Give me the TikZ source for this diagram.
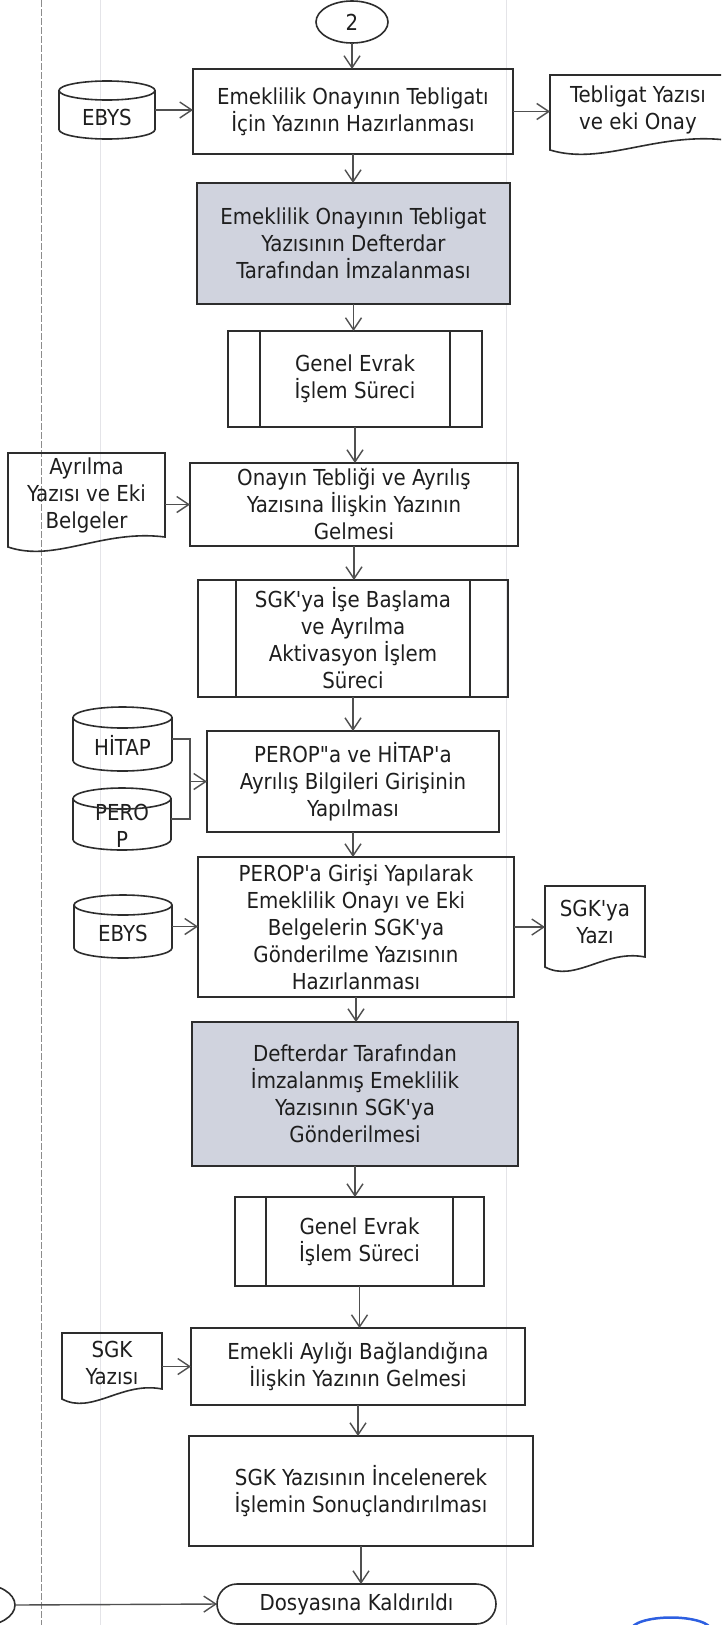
\documentclass[tikz,border=0pt]{standalone}
\usepackage{fontspec}
\setmainfont{DejaVu Sans Condensed}[Ligatures=TeXOff]
\usetikzlibrary{arrows.meta,calc,shapes.misc,shapes.geometric}
\definecolor{ink}{RGB}{30,30,30}
\definecolor{edge}{RGB}{45,45,45}
\definecolor{conn}{RGB}{80,80,80}
\definecolor{shade}{RGB}{208,211,222}
\definecolor{stamp}{RGB}{45,95,225}
\definecolor{lane}{RGB}{140,140,140}
\definecolor{lanefaint}{RGB}{228,228,232}
\tikzset{
  base/.style={inner sep=0pt, outer sep=0pt, font=\fontsize{22}{27}\selectfont, text=ink, align=center},
  procbox/.style={base, rectangle, draw=edge, line width=1.8pt},
  shadebox/.style={procbox, fill=shade},
  shapeonly/.style={base, rectangle, draw=none},
  oval/.style={base, ellipse, draw=edge, line width=1.6pt},
  termbox/.style={base, rounded rectangle, draw=edge, line width=1.6pt},
  outl/.style={draw=edge, line width=1.6pt},
  lnk/.style={draw=conn, line width=1.4pt},
  flow/.style={lnk, -{Straight Barb[length=12pt,width=16pt,line width=1.4pt]}}
}
\newcommand\cylout[3]{% node, half width, ellipse radius
  \draw[outl] ([yshift=-#3pt]#1.north west) -- ([yshift=#3pt]#1.south west)
    arc[start angle=180,end angle=360,x radius=#2pt,y radius=#3pt]
    -- ([yshift=-#3pt]#1.north east)
    arc[start angle=0,end angle=180,x radius=#2pt,y radius=#3pt] -- cycle;
  \draw[outl] ([yshift=-#3pt]#1.north west)
    arc[start angle=180,end angle=360,x radius=#2pt,y radius=#3pt];}
\newcommand\docout[1]{%
  \draw[outl] (#1.north west) -- (#1.north east) -- ([yshift=14pt]#1.south east)
    .. controls ($(#1.south west)!0.6!(#1.south east)+(0,22pt)$) and ($(#1.south west)!0.3!(#1.south east)+(0,-12pt)$) .. ([yshift=4pt]#1.south west) -- cycle;}
\newcommand\gepout[2]{%
  \draw[outl] ([xshift=#2pt]#1.north west) -- ([xshift=#2pt]#1.south west);
  \draw[outl] ([xshift=-#2pt]#1.north east) -- ([xshift=-#2pt]#1.south east);}
\begin{document}
\begin{tikzpicture}[x=1pt,y=1pt]
\useasboundingbox (0,0) rectangle (721,-1625);
\clip (0,0) rectangle (721,-1625);
\fill[white] (0,0) rectangle (721,-1625);
% lane lines
\draw[lanefaint, line width=1pt] (100,0) -- (100,-1625);
\draw[lanefaint, line width=1pt] (506,0) -- (506,-1625);
\draw[lane, line width=1pt, dash pattern=on 7pt off 2pt] (41,0) -- (41,-1625);

% nodes
\node[oval, minimum width=72pt, minimum height=42pt] (c2) at (352,-22) {2};
\node[procbox, minimum width=320pt, minimum height=85pt] (b1) at (353,-111.5) {Emeklilik Onayının Tebligatı\\İçin Yazının Hazırlanması};
\node[shapeonly, minimum width=96pt, minimum height=58pt] (ebys1) at (107,-110) {};
\node[base] (ebys1t) at ($(ebys1)+(0,-7pt)$) {EBYS};
\node[shapeonly, minimum width=176pt, minimum height=79pt] (d1) at (638,-114.5) {};
\node[base] (d1t) at ($(d1)+(0,4.5pt)$) {Tebligat Yazısı\\ve eki Onay};
\node[shadebox, minimum width=313pt, minimum height=121pt] (b2) at (353.5,-243.5) {Emeklilik Onayının Tebligat\\Yazısının Defterdar\\Tarafından İmzalanması};
\node[procbox, minimum width=254pt, minimum height=96pt] (g1) at (355,-379) {Genel Evrak\\İşlem Süreci};
\node[procbox, minimum width=328pt, minimum height=83pt] (b3) at (354,-504.5) {Onayın Tebliği ve Ayrılış\\Yazısına İlişkin Yazının\\Gelmesi};
\node[shapeonly, minimum width=157pt, minimum height=98pt] (d2) at (86.5,-502) {};
\node[base] (d2t) at ($(d2)+(0,7pt)$) {Ayrılma\\Yazısı ve Eki\\Belgeler};
\node[procbox, minimum width=310pt, minimum height=117pt] (g2) at (353,-638.5) {SGK'ya İşe Başlama\\ve Ayrılma\\Aktivasyon İşlem\\Süreci};
\node[shapeonly, minimum width=99pt, minimum height=64pt] (hitap) at (122.5,-739) {};
\node[base] (hitapt) at ($(hitap)+(0,-6pt)$) {HİTAP};
\node[shapeonly, minimum width=98pt, minimum height=62pt] (perop) at (122,-819) {};
\node[base] (propt) at ($(perop)+(0,-7pt)$) {PERO\\P};
\node[procbox, minimum width=292pt, minimum height=101pt] (b4) at (353,-781.5) {PEROP"a ve HİTAP'a\\Ayrılış Bilgileri Girişinin\\Yapılması};
\node[procbox, minimum width=316pt, minimum height=140pt] (b5) at (356,-927) {PEROP'a Girişi Yapılarak\\Emeklilik Onayı ve Eki\\Belgelerin SGK'ya\\Gönderilme Yazısının\\Hazırlanması};
\node[shapeonly, minimum width=98pt, minimum height=63pt] (ebys2) at (123,-926.5) {};
\node[base] (ebys2t) at ($(ebys2)+(0,-6.5pt)$) {EBYS};
\node[shapeonly, minimum width=100pt, minimum height=85pt] (d3) at (595,-928.5) {};
\node[base] (d3t) at ($(d3)+(0,6.5pt)$) {SGK'ya\\Yazı};
\node[shadebox, minimum width=326pt, minimum height=144pt] (b6) at (355,-1094) {Defterdar Tarafından\\İmzalanmış Emeklilik\\Yazısının SGK'ya\\Gönderilmesi};
\node[procbox, minimum width=249pt, minimum height=89pt] (g3) at (359.5,-1241.5) {Genel Evrak\\İşlem Süreci};
\node[procbox, minimum width=334pt, minimum height=77pt] (b7) at (358,-1366.5) {Emekli Aylığı Bağlandığına\\İlişkin Yazının Gelmesi};
\node[shapeonly, minimum width=100pt, minimum height=70pt] (d4) at (112,-1368) {};
\node[base] (d4t) at ($(d4)+(0,5pt)$) {SGK\\Yazısı};
\node[procbox, minimum width=344pt, minimum height=110pt] (b8) at (361,-1491) {SGK Yazısının İncelenerek\\İşlemin Sonuçlandırılması};
\node[termbox, minimum width=279pt, minimum height=40pt] (term) at (356.5,-1604) {Dosyasına Kaldırıldı};
\node[oval, minimum width=70pt, minimum height=42pt] (lc) at (-20,-1605) {};

% shape outlines
\cylout{ebys1}{48}{9.5}
\cylout{hitap}{49.5}{10.5}
\cylout{perop}{49}{10.5}
\cylout{ebys2}{49}{10}
\docout{d1}
\docout{d2}
\docout{d3}
\docout{d4}
\gepout{g1}{32}
\gepout{g2}{38}
\gepout{g3}{31}

% connectors
\draw[flow] (c2.south) -- (c2.south |- b1.north);
\draw[flow] (ebys1.east) -- (ebys1.east -| b1.west);
\draw[flow] (b1.east) -- (b1.east -| d1.west);
\draw[flow] (b1.south) -- (b1.south |- b2.north);
\draw[flow] (b2.south) -- (b2.south |- g1.north);
\draw[flow] (g1.south) -- (g1.south |- b3.north);
\draw[flow] (b3.west -| d2.east) -- (b3.west);
\draw[flow] (b3.south) -- (b3.south |- g2.north);
\draw[flow] (g2.south) -- (g2.south |- b4.north);
\coordinate (bj) at ($(b4.west)+(-17pt,0)$);
\draw[lnk] (hitap.east) -| (bj) |- (perop.east);
\draw[flow] (bj) -- (b4.west);
\draw[flow] (b4.south) -- (b4.south |- b5.north);
\draw[flow] (ebys2.east) -- (ebys2.east -| b5.west);
\draw[flow] (b5.east) -- (b5.east -| d3.west);
\draw[flow] (b5.south) -- (b5.south |- b6.north);
\draw[flow] (b6.south) -- (b6.south |- g3.north);
\draw[flow] (g3.south) -- (g3.south |- b7.north);
\draw[flow] (b7.west -| d4.east) -- (b7.west);
\draw[flow] (b7.south) -- (b7.south |- b8.north);
\draw[flow] (b8.south) -- (b8.south |- term.north);
\draw[flow] (lc.east) -- (term.west);

% stamp mark
\draw[stamp, line width=2.5pt] (671,-1630) ellipse[x radius=40, y radius=12.5];
\end{tikzpicture}
\end{document}
